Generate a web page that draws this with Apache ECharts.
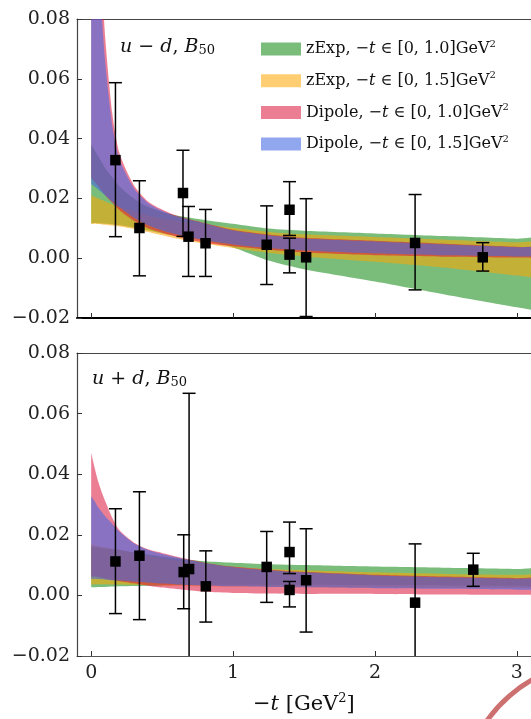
<!DOCTYPE html>
<html>
<head>
<meta charset="utf-8">
<script src="https://cdn.jsdelivr.net/npm/echarts@6/dist/echarts.min.js"></script>
<style>
html, body { margin: 0; padding: 0; background: #fff; }
#chart { width: 531px; height: 719px; }
</style>
</head>
<body>
<div id="chart"></div>
<script>
var tGrid = [0, 0.025, 0.05, 0.075, 0.1, 0.15, 0.2, 0.3, 0.4, 0.5, 0.6, 0.8, 1.0, 1.25, 1.5, 2.0, 2.5, 3.0, 3.2];

// u-d, B50 bands
var udZ10Lo = [0.0118, 0.0118, 0.0117, 0.0116, 0.0115, 0.0113, 0.0110, 0.0102, 0.0093, 0.0083, 0.0075, 0.0058, 0.0036, -0.0008, -0.0037, -0.0078, -0.0122, -0.0164, -0.0180];
var udZ10Hi = [0.038, 0.036, 0.034, 0.032, 0.030, 0.027, 0.024, 0.020, 0.0172, 0.0155, 0.0143, 0.0128, 0.0115, 0.0099, 0.0092, 0.0083, 0.0074, 0.0065, 0.0062];
var udZ15Lo = [0.0115, 0.0115, 0.0114, 0.0113, 0.0112, 0.0109, 0.0106, 0.0098, 0.0088, 0.0077, 0.0066, 0.0048, 0.0034, 0.0018, 0.0006, -0.0012, -0.0032, -0.0058, -0.0068];
var udZ15Hi = [0.021, 0.0205, 0.020, 0.0195, 0.019, 0.018, 0.017, 0.0155, 0.0143, 0.0133, 0.0125, 0.0113, 0.0102, 0.0088, 0.0080, 0.0071, 0.0062, 0.0053, 0.0050];
var udD10Lo = [0.027, 0.0255, 0.024, 0.0225, 0.021, 0.0185, 0.016, 0.0125, 0.0100, 0.0085, 0.0072, 0.0052, 0.0040, 0.0028, 0.0019, 0.0010, 0.0005, 0.0002, 0.0001];
var udD10Hi = [0.21, 0.155, 0.118, 0.093, 0.073, 0.048, 0.035, 0.0245, 0.0190, 0.0163, 0.0143, 0.0118, 0.0095, 0.0079, 0.0068, 0.0058, 0.0048, 0.0038, 0.0035];
var udD15Lo = [0.025, 0.024, 0.023, 0.022, 0.021, 0.019, 0.017, 0.0135, 0.0110, 0.0093, 0.0080, 0.0060, 0.0046, 0.0034, 0.0026, 0.0016, 0.0010, 0.0006, 0.0005];
var udD15Hi = [0.19, 0.14, 0.105, 0.081, 0.065, 0.044, 0.033, 0.0235, 0.0185, 0.0159, 0.0140, 0.0115, 0.0093, 0.0077, 0.0066, 0.0056, 0.0046, 0.0037, 0.0034];

// u+d, B50 bands
var usZ10Lo = [0.0027, 0.0027, 0.0028, 0.0028, 0.0028, 0.0029, 0.0030, 0.0031, 0.0032, 0.0033, 0.0034, 0.0035, 0.0035, 0.0035, 0.0035, 0.0034, 0.0033, 0.0032, 0.0032];
var usZ10Hi = [0.0160, 0.0159, 0.0158, 0.0156, 0.0155, 0.0152, 0.0150, 0.0142, 0.0135, 0.0128, 0.0122, 0.0113, 0.0108, 0.0103, 0.0100, 0.0095, 0.0091, 0.0087, 0.0086];
var usZ15Lo = [0.0037, 0.0037, 0.0037, 0.0037, 0.0037, 0.0036, 0.0036, 0.0035, 0.0034, 0.0033, 0.0032, 0.0030, 0.0029, 0.0028, 0.0027, 0.0026, 0.0025, 0.0025, 0.0025];
var usZ15Hi = [0.0167, 0.0165, 0.0163, 0.0160, 0.0158, 0.0154, 0.0150, 0.0140, 0.0131, 0.0122, 0.0115, 0.0103, 0.0094, 0.0087, 0.0083, 0.0076, 0.0071, 0.0068, 0.0067];
var usD10Lo = [0.0063, 0.0062, 0.0060, 0.0058, 0.0055, 0.0051, 0.0047, 0.0040, 0.0032, 0.0026, 0.0021, 0.0012, 0.0008, 0.0006, 0.0005, 0.0005, 0.0003, 0.0002, 0.0002];
var usD10Hi = [0.047, 0.042, 0.0375, 0.034, 0.031, 0.0255, 0.0215, 0.0175, 0.0152, 0.0140, 0.0128, 0.0108, 0.0095, 0.0085, 0.0078, 0.0068, 0.0062, 0.0057, 0.0055];
var usD15Lo = [0.0055, 0.0055, 0.0054, 0.0053, 0.0052, 0.0050, 0.0049, 0.0045, 0.0042, 0.0039, 0.0036, 0.0032, 0.0030, 0.0028, 0.0027, 0.0024, 0.0022, 0.0019, 0.0018];
var usD15Hi = [0.0327, 0.031, 0.029, 0.0275, 0.026, 0.0235, 0.021, 0.0172, 0.0150, 0.0137, 0.0126, 0.0106, 0.0093, 0.0083, 0.0076, 0.0066, 0.0060, 0.0055, 0.0054];

// lattice points: -t, value, lower and upper end of error bar
var udT   = [0.171, 0.340, 0.647, 0.686, 0.806, 1.237, 1.398, 1.398, 1.515, 2.283, 2.760];
var udVal = [0.0328, 0.0101, 0.0218, 0.0072, 0.0050, 0.0045, 0.0162, 0.0012, 0.0003, 0.0051, 0.0003];
var udLo  = [0.0072, -0.0059, 0.0073, -0.0061, -0.0061, -0.0088, 0.0076, -0.0049, -0.0195, -0.0106, -0.0043];
var udHi  = [0.0587, 0.0259, 0.0361, 0.0173, 0.0163, 0.0175, 0.0256, 0.0067, 0.0199, 0.0213, 0.0052];

var usT   = [0.171, 0.340, 0.652, 0.690, 0.808, 1.237, 1.398, 1.398, 1.515, 2.283, 2.693];
var usVal = [0.0112, 0.0131, 0.0077, 0.0087, 0.0030, 0.0094, 0.0143, 0.0018, 0.0050, -0.0024, 0.0085];
var usLo  = [-0.0060, -0.0080, -0.0044, -0.0250, -0.0088, -0.0023, 0.0072, -0.0038, -0.0121, -0.0220, 0.0030];
var usHi  = [0.0286, 0.0342, 0.0200, 0.0667, 0.0147, 0.0211, 0.0242, 0.0046, 0.0220, 0.0170, 0.0139];

var bandNames = ['zExp10', 'zExp15', 'Dipole10', 'Dipole15'];
var bandLabels = [
  '{n|zExp, −}{i|t}{n| ∈ [0, 1.0]GeV}{s|2}',
  '{n|zExp, −}{i|t}{n| ∈ [0, 1.5]GeV}{s|2}',
  '{n|Dipole, −}{i|t}{n| ∈ [0, 1.0]GeV}{s|2}',
  '{n|Dipole, −}{i|t}{n| ∈ [0, 1.5]GeV}{s|2}'
];
var bandColors = ['rgba(0,128,0,0.52)', 'rgba(255,165,0,0.55)', 'rgba(220,20,60,0.55)', 'rgba(65,105,225,0.58)'];

var SERIF = '"DejaVu Serif", serif';
var chart = echarts.init(document.getElementById('chart'));

// one filled polygon per band: upper edge left->right, lower edge back
function band(name, xi, yi, lo, hi, color) {
  return {
    name: name,
    type: 'custom',
    xAxisIndex: xi,
    yAxisIndex: yi,
    clip: true,
    silent: true,
    itemStyle: { color: color },
    data: [[0, 0]],
    renderItem: function (params, api) {
      var pts = [];
      for (var i = 0; i < tGrid.length; i++) pts.push(api.coord([tGrid[i], hi[i]]));
      for (var j = tGrid.length - 1; j >= 0; j--) pts.push(api.coord([tGrid[j], lo[j]]));
      // keep the smoothed outline inside the points' own bounding box
      var c0 = [pts[0][0], pts[0][1]];
      return {
        type: 'polygon',
        shape: { points: pts, smooth: 0.25, smoothConstraint: [c0, c0.slice()] },
        style: { fill: color }
      };
    }
  };
}

function errBars(xi, yi, ts, lo, hi) {
  var d = ts.map(function (t, i) { return [t, lo[i], hi[i]]; });
  return {
    type: 'custom',
    xAxisIndex: xi,
    yAxisIndex: yi,
    clip: true,
    silent: true,
    z: 5,
    encode: { x: 0, y: [1, 2] },
    data: d,
    renderItem: function (params, api) {
      var a = api.coord([api.value(0), api.value(1)]);
      var b = api.coord([api.value(0), api.value(2)]);
      var c = 6.5;
      var st = { stroke: '#000', lineWidth: 1.5 };
      return {
        type: 'group',
        children: [
          { type: 'line', shape: { x1: a[0], y1: a[1], x2: b[0], y2: b[1] }, style: st },
          { type: 'line', shape: { x1: a[0] - c, y1: a[1], x2: a[0] + c, y2: a[1] }, style: st },
          { type: 'line', shape: { x1: b[0] - c, y1: b[1], x2: b[0] + c, y2: b[1] }, style: st }
        ]
      };
    }
  };
}

function points(xi, yi, ts, vals) {
  return {
    type: 'scatter',
    xAxisIndex: xi,
    yAxisIndex: yi,
    symbol: 'rect',
    symbolSize: 10.5,
    z: 6,
    silent: true,
    itemStyle: { color: '#000', opacity: 1 },
    data: ts.map(function (t, i) { return [t, vals[i]]; })
  };
}

function xAxisCfg(grid, showLabel, lineColor, lineWidth) {
  return {
    type: 'value', gridIndex: grid, min: -0.1, max: 3.1,
    splitLine: { show: false },
    axisLine: { show: true, onZero: false, lineStyle: { color: lineColor, width: lineWidth } },
    axisTick: { show: true, inside: true, length: 5, customValues: [0, 1, 2, 3], lineStyle: { color: '#333' } },
    axisLabel: { show: showLabel, customValues: [0, 1, 2, 3], margin: 8, color: '#222', fontFamily: SERIF, fontSize: 19 }
  };
}
function frameTop(grid) {
  return {
    type: 'value', gridIndex: grid, min: -0.1, max: 3.1, position: 'top',
    splitLine: { show: false }, axisTick: { show: false }, axisLabel: { show: false },
    axisLine: { show: true, onZero: false, lineStyle: { color: '#444', width: 1.2 } }
  };
}
function yAxisCfg(grid) {
  return {
    type: 'value', gridIndex: grid, min: -0.02, max: 0.08, interval: 0.02,
    splitLine: { show: false },
    axisLine: { show: true, onZero: false, lineStyle: { color: '#444', width: 1.2 } },
    axisTick: { show: true, inside: true, length: 5, lineStyle: { color: '#333' } },
    axisLabel: {
      margin: 7, color: '#222', fontFamily: SERIF, fontSize: 19,
      formatter: function (v) { return (v < 0 ? '−' : '') + Math.abs(v).toFixed(2); }
    }
  };
}

var series = [];
var udBands = [[udZ10Lo, udZ10Hi], [udZ15Lo, udZ15Hi], [udD10Lo, udD10Hi], [udD15Lo, udD15Hi]];
var usBands = [[usZ10Lo, usZ10Hi], [usZ15Lo, usZ15Hi], [usD10Lo, usD10Hi], [usD15Lo, usD15Hi]];
for (var k = 0; k < 4; k++) {
  series.push(band(bandNames[k], 0, 0, udBands[k][0], udBands[k][1], bandColors[k]));
  series.push(band(bandNames[k], 2, 1, usBands[k][0], usBands[k][1], bandColors[k]));
}
series.push(errBars(0, 0, udT, udLo, udHi));
series.push(points(0, 0, udT, udVal));
series.push(errBars(2, 1, usT, usLo, usHi));
series.push(points(2, 1, usT, usVal));

var txtRich = {
  n: { fontFamily: SERIF, fontSize: 16, color: '#111', lineHeight: 20 },
  i: { fontFamily: SERIF, fontStyle: 'italic', fontSize: 16, color: '#111', lineHeight: 20 },
  s: { fontFamily: SERIF, fontSize: 10, color: '#111', verticalAlign: 'top', lineHeight: 20 }
};
var labelRich = {
  n: { fontFamily: SERIF, fontSize: 19, fill: '#111' },
  i: { fontFamily: SERIF, fontStyle: 'italic', fontSize: 19, fill: '#111' },
  b: { fontFamily: SERIF, fontSize: 13, fill: '#111', verticalAlign: 'bottom', padding: [6, 0, 0, 0] }
};

chart.setOption({
  animation: false,
  backgroundColor: '#fff',
  grid: [
    { left: 77, top: 19, width: 472, height: 299 },
    { left: 77, top: 353, width: 472, height: 303 }
  ],
  xAxis: [xAxisCfg(0, false, '#000', 2), frameTop(0), xAxisCfg(1, true, '#555', 1.2), frameTop(1)],
  yAxis: [yAxisCfg(0), yAxisCfg(1)],
  legend: {
    data: bandNames,
    orient: 'vertical',
    left: 261,
    top: 39,
    padding: 0,
    itemWidth: 40,
    itemHeight: 13,
    itemGap: 13.7,
    icon: 'rect',
    selectedMode: false,
    formatter: function (name) { return bandLabels[bandNames.indexOf(name)]; },
    textStyle: { rich: txtRich }
  },
  graphic: [
    {
      type: 'text', left: 120, top: 38, silent: true,
      style: { text: '{i|u}{n| − }{i|d}{n|, }{i|B}{b|50}', rich: labelRich }
    },
    {
      type: 'text', left: 92, top: 370, silent: true,
      style: { text: '{i|u}{n| + }{i|d}{n|, }{i|B}{b|50}', rich: labelRich }
    },
    {
      type: 'text', left: 253, top: 692, silent: true,
      style: {
        text: '{n|−}{i|t}{n| [GeV}{s|2}{n|]}',
        rich: {
          n: { fontFamily: SERIF, fontSize: 21, fill: '#111', lineHeight: 26 },
          i: { fontFamily: SERIF, fontStyle: 'italic', fontSize: 21, fill: '#111', lineHeight: 26 },
          s: { fontFamily: SERIF, fontSize: 13, fill: '#111', verticalAlign: 'top', lineHeight: 26 }
        }
      }
    },
    {
      type: 'arc', silent: true,
      shape: { cx: 600, cy: 800, r: 138, startAngle: 3.5, endAngle: 4.5 },
      style: { stroke: '#cd7070', lineWidth: 5, fill: null }
    }
  ],
  series: series
});
</script>
</body>
</html>
